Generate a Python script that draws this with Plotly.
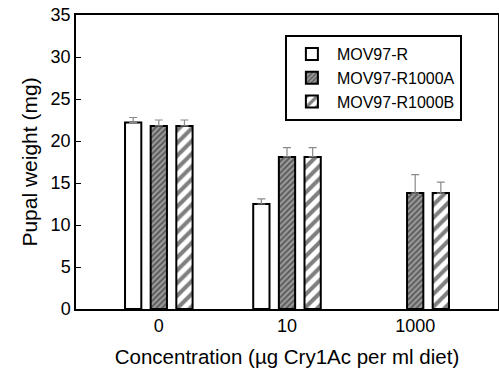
import plotly.graph_objects as go

categories = ["0", "10", "1000"]
series_names = ["MOV97-R", "MOV97-R1000A", "MOV97-R1000B"]
mov97_r = [22.2, 12.5, None]
mov97_r_err = [0.6, 0.6, 0]
r1000a = [21.8, 18.1, 13.8]
r1000a_err = [0.7, 1.1, 2.2]
r1000b = [21.8, 18.1, 13.8]
r1000b_err = [0.7, 1.1, 1.3]

x = [0, 1, 2]
font = "Liberation Sans, Arial, sans-serif"

fig = go.Figure()
err_style = dict(type="data", symmetric=False, color="#8a8a8a", thickness=1.2, width=4)

fig.add_trace(go.Bar(
    x=x, y=mov97_r, name=series_names[0],
    marker=dict(color="white", line=dict(color="black", width=2)),
    error_y=dict(array=mov97_r_err, arrayminus=[0, 0, 0], **err_style),
))
fig.add_trace(go.Bar(
    x=x, y=r1000a, name=series_names[1],
    marker=dict(color="#555555", line=dict(color="black", width=2),
                pattern=dict(shape="/", fgcolor="#111111", bgcolor="#9a9a9a", size=4, solidity=0.45)),
    error_y=dict(array=r1000a_err, arrayminus=[0, 0, 0], **err_style),
))
fig.add_trace(go.Bar(
    x=x, y=r1000b, name=series_names[2],
    marker=dict(color="white", line=dict(color="black", width=2),
                pattern=dict(shape="/", fgcolor="black", bgcolor="white", size=9, solidity=0.45)),
    error_y=dict(array=r1000b_err, arrayminus=[0, 0, 0], **err_style),
))

fig.update_layout(
    width=499, height=369,
    margin=dict(l=76, r=1, t=15, b=60, autoexpand=False),
    paper_bgcolor="white", plot_bgcolor="white",
    barmode="group", bargap=0.4, bargroupgap=0.365,
    font=dict(family=font, size=16, color="black"),
    showlegend=True,
    legend=dict(
        x=0.495, y=0.932, xanchor="left", yanchor="top",
        bordercolor="black", borderwidth=2, bgcolor="white",
        font=dict(family=font, size=16, color="black"),
        tracegroupgap=0, itemwidth=40,
    ),
    xaxis=dict(
        range=[-0.646, 2.646], tickmode="array", tickvals=x, ticktext=categories,
        showline=True, linecolor="black", linewidth=1.5, mirror=True,
        ticks="", showgrid=False, zeroline=False, automargin=False,
        tickfont=dict(size=18),
        title=dict(text="Concentration (µg Cry1Ac per ml diet)", font=dict(size=20.5), standoff=14),
    ),
    yaxis=dict(
        range=[0, 35], tickmode="array", tickvals=[0, 5, 10, 15, 20, 25, 30, 35],
        showline=True, linecolor="black", linewidth=1.5, mirror=True,
        ticks="inside", ticklen=5, tickcolor="black", showgrid=False, zeroline=False,
        automargin=False,
        tickfont=dict(size=18),
        title=dict(text="Pupal weight (mg)", font=dict(size=21), standoff=7),
    ),
)

fig.write_html(
    "out.html",
    config={"displayModeBar": False},
    post_script="document.body.style.margin='0';document.body.style.overflow='hidden';",
)
